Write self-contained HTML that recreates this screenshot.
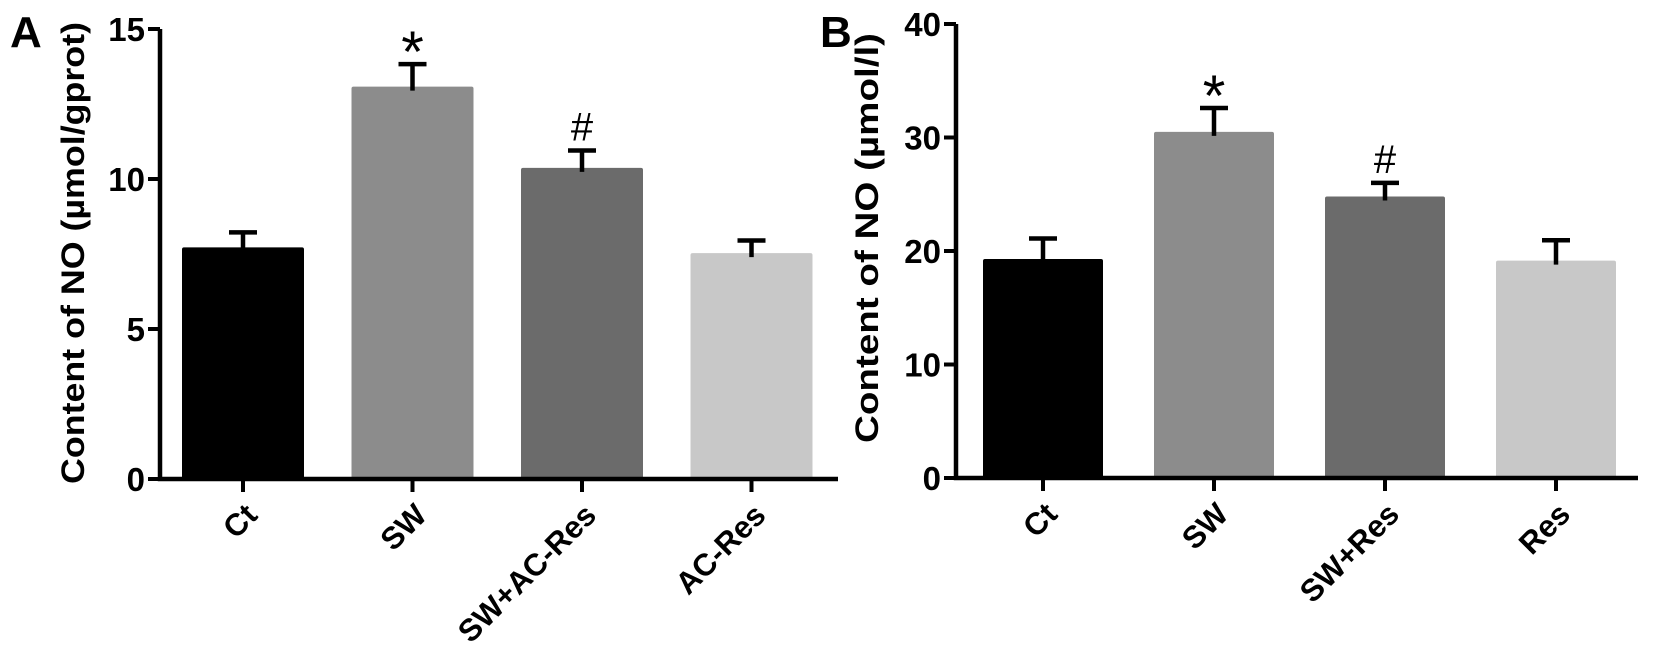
<!DOCTYPE html>
<html><head><meta charset="utf-8"><style>
html,body{margin:0;padding:0;background:#fff;}
svg{display:block;font-family:"Liberation Sans",Arial,sans-serif;}
</style></head><body>
<svg id="c" width="1654" height="667" viewBox="0 0 1654 667"></svg>
<script>
const catsA = ["Ct","SW","SW+AC-Res","AC-Res"];
const valsA = [7.72, 13.08, 10.37, 7.53];
const errA  = [0.5, 0.75, 0.58, 0.42];
const marksA = ["", "*", "#", ""];
const ticksA = [0,5,10,15];
const catsB = ["Ct","SW","SW+Res","Res"];
const valsB = [19.3, 30.5, 24.8, 19.15];
const errB  = [1.8, 2.1, 1.2, 1.8];
const marksB = ["", "*", "#", ""];
const ticksB = [0,10,20,30,40];
const colors = ["#000000","#8c8c8c","#6b6b6b","#c8c8c8"];

const NS="http://www.w3.org/2000/svg";
const svg=document.getElementById('c');
function mk(tag,attrs,parent){const e=document.createElementNS(NS,tag);for(const k in attrs)e.setAttribute(k,attrs[k]);(parent||svg).appendChild(e);return e;}

function panel(p){
  const g=mk('g',{});
  
  
  const y=v=>p.y0-(v/p.max)*(p.y0-p.yTop);
  const x=i=>p.x0+i*p.step;
  p.cats.forEach((c,i)=>{
    const b=mk('rect',{x:x(i),y:y(p.vals[i]),width:p.bw,height:p.y0-y(p.vals[i]),fill:colors[i],rx:2},g);
    
    
    const cx=x(i)+p.bw/2, top=y(p.vals[i]+p.errs[i]);
    const e=mk('path',{d:`M${cx} ${y(p.vals[i])+4}V${top}M${cx-14} ${top}H${cx+14}`,stroke:'#000','stroke-width':4.5,fill:'none'},g);
    
    
    if(p.marks[i]){
      const isStar=p.marks[i]=='*';
      const t=mk('text',{x:cx,y:isStar?top+8:top-10,'text-anchor':'middle','font-size':isStar?58:40,fill:'#000'},g);
      t.textContent=p.marks[i];
      
      
    }
    const tk=mk('line',{x1:cx,x2:cx,y1:p.y0,y2:p.y0+13,stroke:'#000','stroke-width':4},g);
    
    
    const lx=cx+16, ly=p.y0+38;
    const lb=mk('text',{x:lx,y:ly,'text-anchor':'end','font-size':31,'font-weight':'bold',transform:`rotate(-45 ${lx} ${ly})`},g);
    lb.textContent=c;
    
    
  });
  const ax=mk('path',{d:`M${p.ax} ${p.yTop}V${p.y0}H${p.xEnd}`,stroke:'#000','stroke-width':4.5,fill:'none'},g);
  
  
  p.ticks.forEach(t=>{
    const l=mk('line',{x1:p.ax-12,x2:p.ax,y1:y(t),y2:y(t),stroke:'#000','stroke-width':4},g);
    
    
    const tl=mk('text',{x:p.ax-15,y:y(t)+12,'text-anchor':'end','font-size':33,'font-weight':'bold'},g);
    tl.textContent=t;
    
    
  });
  const yt=mk('text',{x:p.titleX,y:p.titleY,'text-anchor':'middle','font-size':32,'font-weight':'bold',textLength:p.titleLen,lengthAdjust:'spacingAndGlyphs',transform:`rotate(-90 ${p.titleX} ${p.titleY})`},g);
  yt.textContent=p.title;
  
  
  const pl=mk('text',{x:p.letterX,y:47,'font-size':44,'font-weight':'bold'},g);
  pl.textContent=p.letter;
  
  
}
panel({name:'panel-a',cats:catsA,vals:valsA,errs:errA,marks:marksA,ticks:ticksA,max:15,y0:479,yTop:29,x0:182,step:169.5,bw:122,ax:160,xEnd:838,title:'Content of NO (µmol/gprot)',titleX:84,titleY:253,titleLen:462,letter:'A',letterX:10});
panel({name:'panel-b',cats:catsB,vals:valsB,errs:errB,marks:marksB,ticks:ticksB,max:40,y0:478,yTop:24,x0:983,step:171,bw:120,ax:956,xEnd:1638,title:'Content of NO (µmol/l)',titleX:878,titleY:238,titleLen:410,letter:'B',letterX:820});
</script>
</body></html>
